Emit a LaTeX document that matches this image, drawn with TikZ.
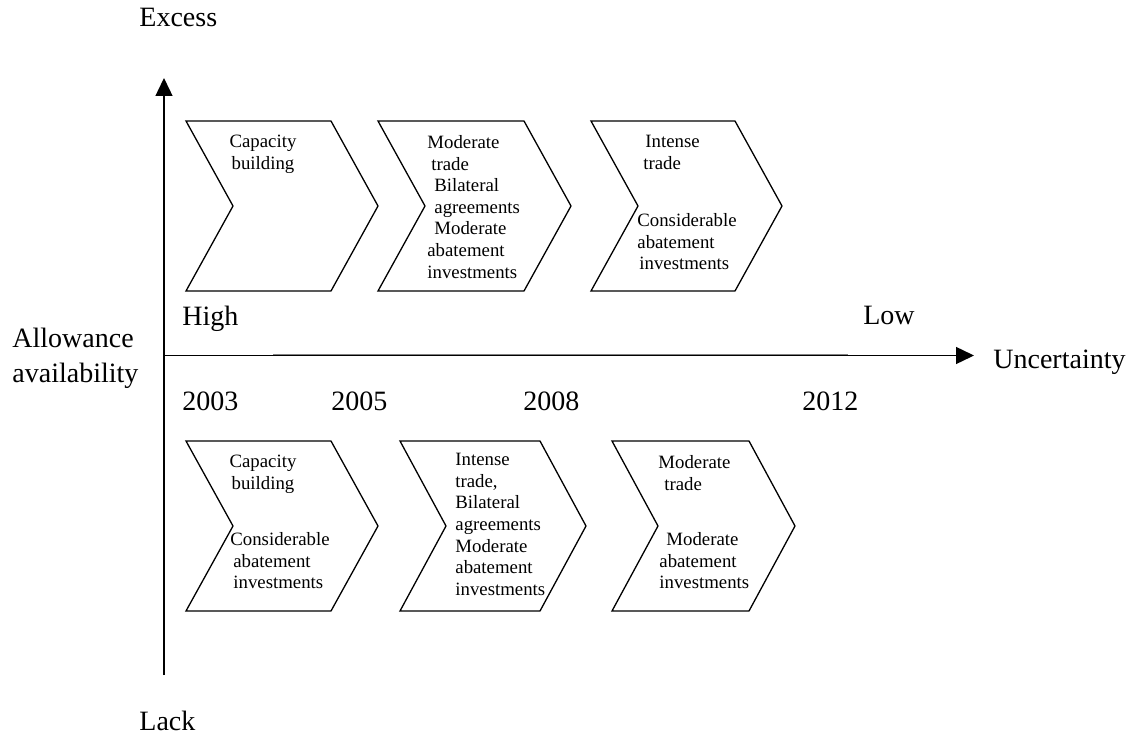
\documentclass[tikz,border=0pt]{standalone}
\usepackage{fontspec}
\setmainfont{Liberation Serif}
\usetikzlibrary{arrows.meta}

\begin{document}
\begin{tikzpicture}[
    x=0.5pt,
    y=-0.5pt,
    axis/.style={%
      line width=0.7pt,
      -{Triangle[length=9pt,width=8.5pt]},
    },
    chevron/.style={%
      draw,
      line width=0.65pt,
    },
    lbl/.style={%
      inner sep=0pt,
      font=\fontsize{14}{17.5}\selectfont,
    },
    txt/.style={%
      inner sep=0pt,
      align=left,
      anchor=north west,
      font=\fontsize{9.4}{10.8}\selectfont,
    },
  ]

    \useasboundingbox (0,0) rectangle (1131,738);

    % axes
    \coordinate (O) at (164,355.5);
    \coordinate (ytop) at (164,78);
    \coordinate (ybot) at (164,675);
    \coordinate (xend) at (974,355.5);
    \coordinate (g1) at (273,354.4);
    \coordinate (g2) at (848,354.4);
    \draw [gray, line width=0.6pt] (g1) -- (g2);
    \draw [axis] (ybot) -- (ytop);
    \draw [axis] (O) -- (xend);

    % chevrons: left / top / width / depth
    \foreach \cx/\cy/\w/\d in {186/121/145/47, 378/121/146/47, 591/121/144/47,
                               186/441/145/47, 400/441/140/46, 612/441/137/46}
      \draw [chevron] (\cx,\cy) -- ++(\w,0) -- ++(\d,85) -- ++(-\d,85)
        -- ++(-\w,0) -- ++(\d,-85) -- cycle;

    \node [lbl, anchor=base west] (excess) at (139,27) {Excess};
    \node [lbl, anchor=base west] (lack) at (139,730) {Lack};
    \node [lbl, align=left, anchor=north west] (allow) at (12,328) {Allowance\\availability};
    \node [lbl, anchor=base west] (high) at (182,325) {High};
    \node [lbl, anchor=base east] (low) at (915,324) {Low};
    \node [lbl, anchor=base west] (uncert) at (993,368) {Uncertainty};

    \node [lbl, anchor=base west] (y2003) at (182,410) {2003};
    \node [lbl, anchor=base west] (y2005) at (331,410) {2005};
    \node [lbl, anchor=base west] (y2008) at (523,410) {2008};
    \node [lbl, anchor=base west] (y2012) at (802,410) {2012};

    % upper row
    \node [txt, align=center, anchor=north] (cap1) at (263,135) {Capacity\\building};
    \node [txt] (mod1) at (427,135) {Moderate\\\hspace*{2pt}trade\\\hspace*{3.5pt}Bilateral\\
      \hspace*{3.5pt}agreements\\\hspace*{3.5pt}Moderate\\abatement\\investments};
    \node [txt] (int1) at (643,135) {\hspace*{1pt}Intense\\trade};
    \node [txt] (con1) at (637,213) {Considerable\\abatement\\\hspace*{1pt}investments};

    % lower row
    \node [txt, align=center, anchor=north] (cap2) at (263,455) {Capacity\\building};
    \node [txt] (con2) at (230,532) {Considerable\\\hspace*{1.5pt}abatement\\\hspace*{1.5pt}investments};
    \node [txt] (int2) at (455,453) {Intense\\trade,\\Bilateral\\agreements\\Moderate\\abatement\\investments};
    \node [txt] (mod2) at (658,455) {Moderate\\\hspace*{3pt}trade};
    \node [txt] (mod3) at (659,532) {\hspace*{3.5pt}Moderate\\abatement\\investments};
\end{tikzpicture}
\end{document}
